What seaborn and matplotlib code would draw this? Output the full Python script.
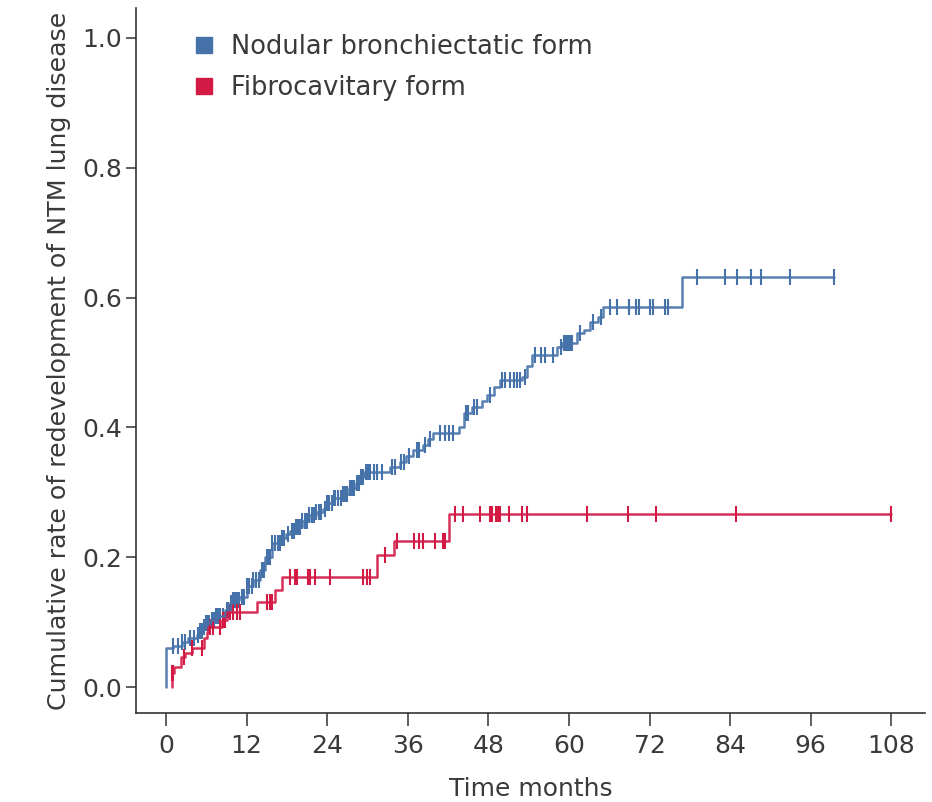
import numpy as np
import pandas as pd
import matplotlib
matplotlib.use("Agg")
import matplotlib.pyplot as plt
import seaborn as sns
from matplotlib.lines import Line2D

# --- datos ---
# forma nodular bronquiectasica: tiempos de evento y tasa acumulada tras cada evento
blue_t = [0, 1.1, 2.3, 3.2, 4.6, 5.0, 5.5, 6.0, 6.5, 7.5,
          8.8, 9.5, 9.9, 10.9, 12.0, 13.0, 14.0, 14.8, 15.8, 17.0,
          17.8, 18.5, 19.3, 20.3, 21.3, 22.3, 23.3, 24.0, 24.8, 26.3,
          27.3, 28.3, 29.0, 29.5, 33.3, 34.9, 35.8, 36.8, 38.3, 39.0,
          39.8, 43.6, 44.3, 45.5, 47.0, 47.8, 48.8, 49.8, 53.0, 53.7,
          54.5, 58.2, 59.0, 61.2, 62.2, 63.2, 64.4, 65.1, 76.8]
blue_v = [0.060, 0.063, 0.070, 0.075, 0.080, 0.086, 0.093, 0.099, 0.103, 0.110,
          0.119, 0.129, 0.134, 0.139, 0.155, 0.165, 0.180, 0.200, 0.222, 0.229,
          0.235, 0.241, 0.247, 0.256, 0.265, 0.270, 0.275, 0.283, 0.291, 0.298,
          0.306, 0.314, 0.323, 0.332, 0.339, 0.347, 0.356, 0.365, 0.373, 0.382,
          0.391, 0.401, 0.422, 0.432, 0.441, 0.450, 0.462, 0.473, 0.478, 0.494,
          0.512, 0.524, 0.530, 0.545, 0.550, 0.563, 0.570, 0.586, 0.632]
blue_end = 99.5
blue_cens = [1.1, 1.8, 2.3, 2.8, 3.6, 4.1, 4.8, 5.0, 5.2, 5.4, 5.7, 6.0, 6.2, 6.4, 6.8,
             7.0, 7.2, 7.5, 7.7, 8.1, 8.5, 9.0, 9.2, 9.6, 10.0, 10.2, 10.6, 10.8, 11.3,
             11.6, 12.0, 12.4, 12.8, 13.0, 13.4, 13.8, 14.3, 14.6, 15.0, 15.2, 15.5,
             15.8, 16.2, 16.6, 16.9, 17.3, 17.6, 18.1, 18.8, 19.0, 19.3, 19.6, 20.0,
             20.3, 20.7, 21.0, 21.3, 21.7, 22.0, 22.4, 22.8, 23.0, 23.6, 24.0, 24.3,
             24.7, 25.0, 25.2, 25.6, 26.0, 26.3, 26.7, 27.0, 27.4, 27.7, 28.0, 28.4,
             28.7, 29.0, 29.2, 29.4, 29.7, 30.0, 30.2, 30.4, 30.9, 31.4, 32.1, 33.6,
             34.1, 35.0, 35.4, 36.2, 37.3, 37.7, 38.6, 39.3, 40.8, 41.5, 42.2, 42.8,
             44.7, 45.0, 45.8, 46.3, 48.2, 50.0, 50.5, 51.2, 51.8, 52.2, 52.7, 53.4,
             55.0, 55.8, 56.4, 57.6, 58.8, 59.3, 59.6, 59.9, 60.2, 60.5, 61.7, 63.6,
             64.7, 66.1, 67.1, 68.9, 69.0, 70.0, 70.5, 72.1, 72.5, 74.3, 74.8, 79.0,
             83.2, 85.1, 87.1, 88.6, 92.9, 99.5]

# forma fibrocavitaria
red_t = [0.85, 0.9, 1.2, 2.2, 2.8, 3.9, 5.7, 6.1, 6.3, 8.3, 9.0, 13.5, 16.2, 17.2,
         31.4, 33.9, 42.2]
red_v = [0.0, 0.021, 0.031, 0.047, 0.053, 0.060, 0.075, 0.085, 0.093, 0.103, 0.116,
         0.131, 0.149, 0.170, 0.203, 0.225, 0.266]
red_end = 108.0
red_cens = [0.95, 1.0, 2.7, 3.9, 5.3, 6.6, 7.0, 8.0, 8.5, 8.8, 9.5, 10.0, 10.5, 11.0,
            15.0, 15.5, 15.7, 18.5, 19.2, 19.5, 21.2, 21.5, 22.2, 24.4, 29.4, 29.9,
            30.4, 32.6, 34.4, 36.9, 37.6, 38.3, 40.0, 41.2, 41.5, 43.0, 44.2, 46.8,
            48.3, 48.5, 49.2, 49.5, 49.8, 51.0, 53.0, 53.7, 62.7, 68.8, 73.0, 84.9,
            108.0]

labels = ["Nodular bronchiectatic form", "Fibrocavitary form"]
colors = ["#4672aa", "#d21a45"]
x_ticks = [0, 12, 24, 36, 48, 60, 72, 84, 96, 108]
y_ticks = [0.0, 0.2, 0.4, 0.6, 0.8, 1.0]


def step_frame(t, v, end, start_zero=False):
    tt = list(t) + [end]
    vv = list(v) + [v[-1]]
    if start_zero:
        tt = [t[0]] + tt
        vv = [0.0] + vv
    return pd.DataFrame({"t": tt, "v": vv})


def censor_frame(t, v, cens):
    idx = np.searchsorted(np.array(t), np.array(cens), side="right") - 1
    return pd.DataFrame({"t": cens, "v": np.array(v)[idx]})


sns.set_style("ticks")
plt.rcParams["font.family"] = ["DejaVu Sans"]
txt = "#3a3a3a"

fig = plt.figure(figsize=(9.32, 8.02), dpi=100)
ax = fig.add_axes([0.146, 0.111, 0.847, 0.879])

curvas = [(blue_t, blue_v, blue_end, blue_cens, True), (red_t, red_v, red_end, red_cens, False)]
for (t, v, end, cens, z), c in zip(curvas, colors):
    sns.lineplot(data=step_frame(t, v, end, z), x="t", y="v", estimator=None, sort=False,
                 drawstyle="steps-post", color=c, linewidth=1.8, alpha=0.9, ax=ax)
    cf = censor_frame(t, v, cens)
    sns.scatterplot(data=cf, x="t", y="v", marker="|", s=130, linewidth=1.5,
                    color=c, ax=ax)

ax.set_xlim(-4.47, 113.1)
ax.set_ylim(-0.040, 1.046)
ax.set_xticks(x_ticks)
ax.set_yticks(y_ticks)
ax.set_yticklabels([f"{y:.1f}" for y in y_ticks])
ax.tick_params(axis="x", length=9, width=1.1, colors="#333333", labelsize=18,
               labelcolor=txt, pad=6)
ax.tick_params(axis="y", length=7, width=1.1, colors="#333333", labelsize=18,
               labelcolor=txt, pad=3)
for s in ["left", "bottom"]:
    ax.spines[s].set_color("#333333")
    ax.spines[s].set_linewidth(1.2)
sns.despine(ax=ax)

ax.set_xlabel("Time months", fontsize=18, color=txt, labelpad=14)
ax.set_ylabel("Cumulative rate of redevelopment of NTM lung disease", fontsize=18.2,
              color=txt, labelpad=8)

handles = [Line2D([], [], linestyle="none", marker="s", markersize=12,
                  markerfacecolor=c, markeredgecolor=c) for c in colors]
leg = ax.legend(handles, labels, loc="upper left", bbox_to_anchor=(0.07, 0.963),
                frameon=False, fontsize=18.5, handletextpad=0.55, labelspacing=0.58,
                handlelength=1.0, borderpad=0, borderaxespad=0)
for tx in leg.get_texts():
    tx.set_color(txt)

fig.savefig("out.png", dpi=100)
